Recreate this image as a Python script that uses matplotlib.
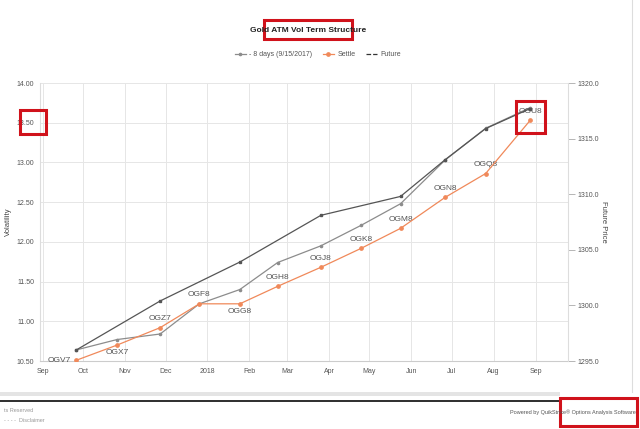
import datetime as dt
import matplotlib
matplotlib.use("Agg")
import matplotlib.pyplot as plt
import matplotlib.dates as mdates
from matplotlib.patches import Rectangle
from matplotlib.lines import Line2D
from matplotlib.ticker import FuncFormatter

plt.rcParams['font.family'] = ['Liberation Sans Narrow', 'Liberation Sans', 'DejaVu Sans']

# option expiry dates and labels
expiry = ["2017-09-26", "2017-10-26", "2017-11-27", "2017-12-26", "2018-01-25", "2018-02-22",
          "2018-03-26", "2018-04-25", "2018-05-24", "2018-06-26", "2018-07-26", "2018-08-28"]
contracts = ["OGV7", "OGX7", "OGZ7", "OGF8", "OGG8", "OGH8",
             "OGJ8", "OGK8", "OGM8", "OGN8", "OGQ8", "OGU8"]
settle = [10.51, 10.70, 10.92, 11.22, 11.22, 11.44, 11.68, 11.92, 12.17, 12.56, 12.86, 13.53]
prior_8d = [10.64, 10.77, 10.84, 11.22, 11.40, 11.74, 11.95, 12.21, 12.48, 13.03, 13.43, 13.69]

# futures points (right axis)
fut_dates = ["2017-09-26", "2017-11-27", "2018-01-25", "2018-03-26", "2018-05-24",
             "2018-06-26", "2018-07-26", "2018-08-28"]
fut_price = [1296.0, 1300.4, 1303.9, 1308.1, 1309.8, 1313.1, 1315.9, 1317.7]

# label placement: 1 above, -1 below, 0 left
label_side = [0, -1, 1, 1, -1, 1, 1, 1, 1, 1, 1, 1]

x_opt = [dt.datetime.strptime(d, "%Y-%m-%d") for d in expiry]
x_fut = [dt.datetime.strptime(d, "%Y-%m-%d") for d in fut_dates]

W, H = 640, 429
fig = plt.figure(figsize=(6.4, 4.29), dpi=100)
ax = fig.add_axes([40 / W, 1 - 361 / H, 528 / W, 278 / H])
ax2 = ax.twinx()

orange = "#f0895a"
ax.plot(x_opt, prior_8d, color="#8c8c8c", lw=0.9, marker="o", ms=1.6, zorder=3)
ax.plot(x_opt, settle, color=orange, lw=0.9, marker="o", ms=2.4, zorder=4)
ax2.plot(x_fut, fut_price, color="#555555", lw=0.9, marker="s", ms=1.6, zorder=3)

for xv, yv, lab, side in zip(x_opt, settle, contracts, label_side):
    if side == 0:
        ax.annotate(lab, (xv, yv), xytext=(-4, 0), textcoords="offset points",
                    ha="right", va="center", fontsize=6, color="#555555")
    elif side > 0:
        ax.annotate(lab, (xv, yv), xytext=(0, 4), textcoords="offset points",
                    ha="center", va="bottom", fontsize=6, color="#555555")
    else:
        ax.annotate(lab, (xv, yv), xytext=(0, -3), textcoords="offset points",
                    ha="center", va="top", fontsize=6, color="#555555")

ax.set_xlim(dt.datetime(2017, 8, 30), dt.datetime(2018, 9, 25))
ax.set_ylim(10.5, 14.0)
ax2.set_ylim(1295, 1320)
ax.set_yticks([10.5, 11.0, 11.5, 12.0, 12.5, 13.0, 13.5, 14.0])
ax.yaxis.set_major_formatter(FuncFormatter(lambda v, p: f"{v:.2f}"))
ax2.set_yticks([1295, 1300, 1305, 1310, 1315, 1320])
ax2.yaxis.set_major_formatter(FuncFormatter(lambda v, p: f"{v:.1f}"))

ax.xaxis.set_major_locator(mdates.MonthLocator())
ax.xaxis.set_major_formatter(FuncFormatter(
    lambda v, p: mdates.num2date(v).strftime("%Y") if mdates.num2date(v).month == 1
    else mdates.num2date(v).strftime("%b")))

ax.grid(True, color="#e6e6e6", lw=0.7)
ax.set_axisbelow(True)
for a in (ax, ax2):
    for s in a.spines.values():
        s.set_visible(False)
ax.spines["bottom"].set_visible(True)
ax.spines["bottom"].set_color("#cccccc")
ax.spines["left"].set_visible(True)
ax.spines["left"].set_color("#dddddd")
ax2.spines["right"].set_visible(True)
ax2.spines["right"].set_color("#dddddd")

ax.tick_params(axis="both", labelsize=5, colors="#555555", length=0, pad=4)
ax.tick_params(axis="x", pad=5)
ax2.tick_params(axis="y", labelsize=5, colors="#555555", length=5, width=0.6, pad=2)
ax2.tick_params(axis="y", color="#aaaaaa")

ax.set_ylabel("Volatility", fontsize=5.5, color="#444444")
ax.yaxis.set_label_coords(-0.053, 0.5)
ax2.set_ylabel("Future Price", fontsize=5.5, color="#444444", rotation=-90, va="center")
ax2.yaxis.set_label_coords(1.068, 0.5)

fig.text(308 / W, 1 - 30 / H, "Gold ATM Vol Term Structure", ha="center", va="center",
         fontsize=6, fontweight="bold", color="#222222")

handles = [Line2D([], [], color="#8c8c8c", lw=0.9, marker="o", ms=1.6),
           Line2D([], [], color=orange, lw=0.9, marker="o", ms=2.4),
           Line2D([], [], color="#333333", lw=0.9, ls="--")]
fig.legend(handles, ["- 8 days (9/15/2017)", "Settle", "Future"], loc="center",
           bbox_to_anchor=(318 / W, 1 - 55 / H), ncol=3, frameon=False, fontsize=5,
           handlelength=1.6, columnspacing=1.5, handletextpad=0.5,
           labelcolor="#555555")

# page decoration below the chart
def px_rect(x0, y0, x1, y1, **kw):
    fig.patches.append(Rectangle((x0 / W, 1 - y1 / H), (x1 - x0) / W, (y1 - y0) / H,
                                 transform=fig.transFigure, figure=fig, **kw))

px_rect(0, 392, 560, 396, facecolor="#e4e4e4", edgecolor="none")
px_rect(0, 400, 560, 402, facecolor="#333333", edgecolor="none")
fig.add_artist(Line2D([632 / W, 632 / W], [1 - 392 / H, 1.0], transform=fig.transFigure,
                      color="#dddddd", lw=0.8))
fig.text(4 / W, 1 - 410 / H, "ts Reserved", fontsize=4, color="#999999", va="center")
fig.text(4 / W, 1 - 420 / H, "- - - -  Disclaimer", fontsize=4, color="#999999", va="center")
fig.text(636 / W, 1 - 412 / H, "Powered by QuikStrike\u00ae Options Analysis Software",
         fontsize=4, color="#555555", ha="right", va="center")

# red highlight boxes
red = "#d0121b"
px_rect(264, 20, 352, 39, facecolor="none", edgecolor=red, lw=2.2)
px_rect(20, 110, 46, 134, facecolor="none", edgecolor=red, lw=2.2)
px_rect(516, 101, 545, 133, facecolor="none", edgecolor=red, lw=2.2)
px_rect(560, 398, 637, 426, facecolor="none", edgecolor=red, lw=2.2)

fig.savefig("out.png", dpi=100)
